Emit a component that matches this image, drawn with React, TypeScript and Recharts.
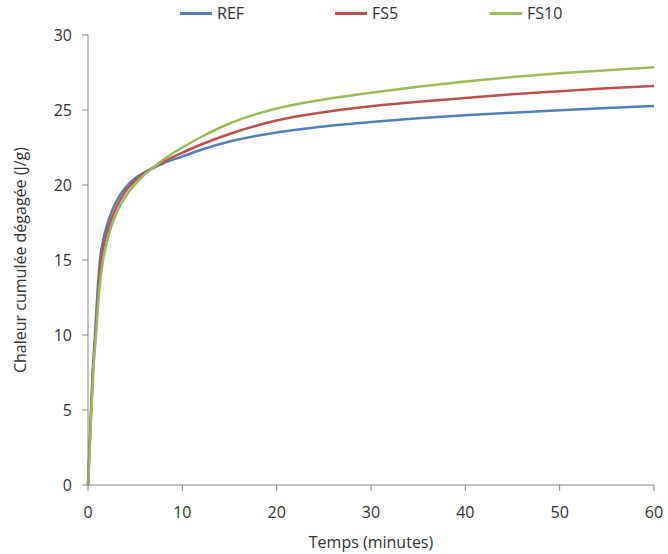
import React from 'react';
import { LineChart, Line, XAxis, YAxis } from 'recharts';

// temps (minutes) and chaleur cumulée (J/g)
const refTime = [0, 0.15, 0.32, 0.5, 0.74, 1, 1.27, 1.6, 2, 2.5, 3, 4, 5, 6, 7, 8, 10, 12, 15, 20, 25, 30, 35, 40, 45, 50, 55, 60];
const refHeat = [0, 2.4, 5, 7.6, 10, 12.8, 15, 16.3, 17.3, 18.2, 18.9, 19.85, 20.45, 20.85, 21.15, 21.45, 21.9, 22.35, 22.9, 23.5, 23.9, 24.2, 24.45, 24.65, 24.82, 24.98, 25.13, 25.27];

const fs5Time = [0, 0.15, 0.33, 0.55, 0.8, 1.1, 1.4, 1.8, 2.3, 3, 4, 5, 6, 7, 8, 10, 12, 15, 20, 25, 30, 35, 40, 45, 50, 55, 60];
const fs5Heat = [0, 2.2, 4.9, 7.8, 10, 12.9, 15, 16.3, 17.4, 18.5, 19.6, 20.3, 20.8, 21.2, 21.55, 22.15, 22.7, 23.4, 24.3, 24.85, 25.25, 25.55, 25.8, 26.05, 26.25, 26.45, 26.6];

const fs10Time = [0, 0.15, 0.35, 0.6, 0.85, 1.2, 1.6, 2, 2.5, 3, 4, 5, 6, 7, 8, 10, 12, 15, 20, 25, 30, 35, 40, 45, 50, 55, 60];
const fs10Heat = [0, 2.0, 4.8, 8.0, 10, 13, 15, 16.2, 17.3, 18.1, 19.25, 20.05, 20.7, 21.2, 21.7, 22.5, 23.2, 24.1, 25.1, 25.7, 26.15, 26.55, 26.9, 27.2, 27.45, 27.65, 27.85];

const xTicks = [0, 10, 20, 30, 40, 50, 60];
const yTicks = [0, 5, 10, 15, 20, 25, 30];

const series = [
  { name: 'REF', color: '#4F81BD', time: refTime, heat: refHeat },
  { name: 'FS5', color: '#C0504D', time: fs5Time, heat: fs5Heat },
  { name: 'FS10', color: '#9BBB59', time: fs10Time, heat: fs10Heat },
];

const font = '"Open Sans", sans-serif';
const axisColor = '#868686';
const textColor = '#333';

export default function App() {
  return (
    <div style={{ position: 'relative', width: 668, height: 554, background: '#fff', fontFamily: font }}>
      <style>{'body{margin:0}'}</style>
      <div style={{ position: 'absolute', left: 180, top: 2, display: 'flex', zIndex: 2 }}>
        {series.map((s, i) => (
          <div key={s.name} style={{ display: 'flex', alignItems: 'center', width: i < series.length - 1 ? 155 : undefined }}>
            <div style={{ width: 32, height: 3, background: s.color, marginRight: 5 }} />
            <span style={{ fontSize: 16, color: textColor }}>{s.name}</span>
          </div>
        ))}
      </div>
      <LineChart width={668} height={554} margin={{ top: 35, right: 14, bottom: 3, left: 0 }}>
        <XAxis
          type="number"
          dataKey="t"
          domain={[0, 60]}
          ticks={xTicks}
          stroke={axisColor}
          tickSize={6}
          tickMargin={16}
          height={66}
          tick={{ fill: textColor, fontSize: 16, fontFamily: font }}
          label={{ value: 'Temps (minutes)', position: 'insideBottom', offset: 3, fill: textColor, fontSize: 16, fontFamily: font }}
          allowDuplicatedCategory={false}
        />
        <YAxis
          type="number"
          domain={[0, 30]}
          ticks={yTicks}
          stroke={axisColor}
          tickSize={6}
          tickMargin={10}
          width={88}
          tick={{ fill: textColor, fontSize: 16, fontFamily: font }}
          label={{ value: 'Chaleur cumulée dégagée (J/g)', angle: -90, position: 'insideLeft', offset: 20, fill: textColor, fontSize: 16, fontFamily: font, style: { textAnchor: 'middle' } }}
        />
        {series.map((s) => (
          <Line
            key={s.name}
            name={s.name}
            data={s.time.map((t, i) => ({ t, v: s.heat[i] }))}
            dataKey="v"
            type="monotone"
            stroke={s.color}
            strokeWidth={2.5}
            dot={false}
            isAnimationActive={false}
          />
        ))}
      </LineChart>
    </div>
  );
}
